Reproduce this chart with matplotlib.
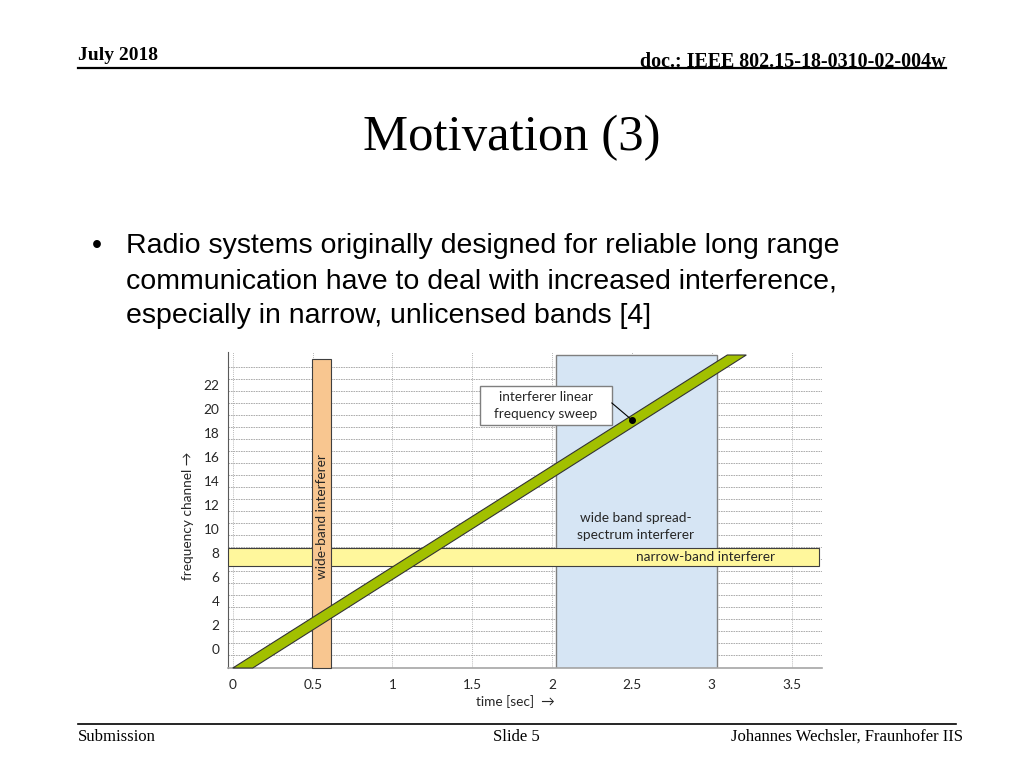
import matplotlib
matplotlib.use("Agg")
import matplotlib.pyplot as plt
from matplotlib.patches import Rectangle, Polygon

# chart data (time in sec, frequency in channels)
time_ticks = [0, 0.5, 1, 1.5, 2, 2.5, 3, 3.5]
time_labels = ['0', '0.5', '1', '1.5', '2', '2.5', '3', '3.5']
freq_ticks = [0, 2, 4, 6, 8, 10, 12, 14, 16, 18, 20, 22]

wideband_t = [0.495, 0.614]        # wide-band interferer (vertical bar)
wideband_f = [-1.58, 24.17]
spread_t = [2.025, 3.035]          # spread-spectrum interferer (block)
spread_f = [-1.58, 24.5]
narrow_t = [-0.03, 3.67]           # narrow-band interferer (horizontal bar)
narrow_f = [6.92, 8.42]
sweep_t = [0.0, 0.125, 3.216, 3.097]   # linear sweep band corners
sweep_f = [-1.58, -1.58, 24.5, 24.5]
sweep_dot = (2.5, 19.08)
callout_t = [1.548, 2.374]
callout_f = [18.67, 21.9]

serif = 'Liberation Serif'
sans = 'Liberation Sans'
chart_font = 'Lato'
fs = 9.8
txt_col = '#262626'
edge = '#3f3f3f'

fig = plt.figure(figsize=(10.24, 7.68), dpi=100)
W, H = 1024, 768

def px(x, y):
    return x / W, 1 - y / H

# slide header / footer
fig.text(*px(78, 55), 'July 2018', fontfamily=serif, fontweight='bold', fontsize=14, va='center', ha='left')
fig.text(*px(946, 62), 'doc.: IEEE 802.15-18-0310-02-004w', fontfamily=serif, fontweight='bold',
         fontsize=14.4, va='center', ha='right')
fig.add_artist(plt.Line2D([78 / W, 946 / W], [1 - 68 / H, 1 - 68 / H], color='black', lw=1.6))
fig.add_artist(plt.Line2D([78 / W, 956 / W], [1 - 724 / H, 1 - 724 / H], color='black', lw=1.2))
fig.text(*px(78, 737), 'Submission', fontfamily=serif, fontsize=12, va='center', ha='left')
fig.text(*px(516, 737), 'Slide 5', fontfamily=serif, fontsize=12, va='center', ha='center')
fig.text(*px(963, 737), 'Johannes Wechsler, Fraunhofer IIS', fontfamily=serif, fontsize=12,
         va='center', ha='right')

fig.text(*px(512, 138), 'Motivation (3)', fontfamily=serif, fontsize=36.5, va='center', ha='center')

bullet_lines = ['Radio systems originally designed for reliable long range',
                'communication have to deal with increased interference,',
                'especially in narrow, unlicensed bands [4]']
fig.text(*px(92, 246), '\u2022', fontfamily=sans, fontsize=20.5, va='center', ha='left')
for i, line in enumerate(bullet_lines):
    fig.text(*px(126, 246 + 35 * i), line, fontfamily=sans, fontsize=20.5, va='center', ha='left')

# chart axes
ax = fig.add_axes([228 / W, 1 - 668 / H, (822 - 228) / W, (668 - 352) / H])
ax.set_xlim(-0.03, 3.69)
ax.set_ylim(-1.58, 24.75)
for s in ['top', 'right']:
    ax.spines[s].set_visible(False)
ax.spines['left'].set_color('#595959')
ax.spines['bottom'].set_color('#a6a6a6')
ax.spines['bottom'].set_linewidth(1.2)

ax.set_xticks(time_ticks)
ax.set_xticklabels(time_labels)
ax.set_yticks(freq_ticks)
ax.set_yticks([f + 0.5 for f in range(-1, 24)], minor=True)
ax.tick_params(axis='both', which='both', length=0, labelsize=fs, colors=txt_col)
ax.tick_params(axis='x', pad=8)
ax.tick_params(axis='y', pad=6)
for lab in ax.get_xticklabels() + ax.get_yticklabels():
    lab.set_fontfamily(chart_font)
ax.grid(True, which='minor', axis='y', color='#a0a0a0', linestyle=(0, (2, 1)), lw=0.6)
ax.grid(True, which='major', axis='x', color='#a0a0a0', linestyle=(0, (1, 1.5)), lw=0.6)
ax.set_axisbelow(True)

ax.add_patch(Rectangle((spread_t[0], spread_f[0]), spread_t[1] - spread_t[0], spread_f[1] - spread_f[0],
                       facecolor='#d6e5f4', edgecolor='#7f7f7f', lw=1.0, zorder=2))
ax.add_patch(Rectangle((narrow_t[0], narrow_f[0]), narrow_t[1] - narrow_t[0], narrow_f[1] - narrow_f[0],
                       facecolor='#fff79c', edgecolor=edge, lw=0.8, zorder=3))
ax.add_patch(Rectangle((wideband_t[0], wideband_f[0]), wideband_t[1] - wideband_t[0],
                       wideband_f[1] - wideband_f[0], facecolor='#f8c690', edgecolor=edge, lw=0.8,
                       zorder=4, clip_on=False))
ax.add_patch(Polygon(list(zip(sweep_t, sweep_f)), closed=True, facecolor='#a2c000', edgecolor='#333333',
                     lw=0.8, zorder=5, clip_on=False))

ax.text(0.557, 11.0, 'wide-band interferer', rotation=90, ha='center', va='center',
        fontfamily=chart_font, fontsize=fs, color=txt_col, zorder=6)
ax.text(2.525, 10.25, 'wide band spread-\nspectrum interferer', ha='center', va='center',
        fontfamily=chart_font, fontsize=fs, color=txt_col, linespacing=1.5, zorder=6)
ax.text(2.963, 7.67, 'narrow-band interferer', ha='center', va='center',
        fontfamily=chart_font, fontsize=fs, color=txt_col, zorder=6)

ax.add_patch(Rectangle((callout_t[0], callout_f[0]), callout_t[1] - callout_t[0], callout_f[1] - callout_f[0],
                       facecolor='white', edgecolor='#7f7f7f', lw=1.0, zorder=7))
ax.text((callout_t[0] + callout_t[1]) / 2, (callout_f[0] + callout_f[1]) / 2,
        'interferer linear\nfrequency sweep', ha='center', va='center',
        fontfamily=chart_font, fontsize=fs, color=txt_col, linespacing=1.45, zorder=8)
ax.plot([callout_t[1], sweep_dot[0]], [20.5, sweep_dot[1]], color='black', lw=0.8, zorder=8)
ax.plot([sweep_dot[0]], [sweep_dot[1]], 'o', color='black', ms=4, zorder=9)

fig.text(*px(188, 516), 'frequency channel \u2192', rotation=90, ha='center', va='center',
         fontfamily=[chart_font, 'DejaVu Sans'], fontsize=fs, color=txt_col)
fig.text(*px(515, 702), 'time [sec]  \u2192', ha='center', va='center',
         fontfamily=[chart_font, 'DejaVu Sans'], fontsize=fs, color=txt_col)

fig.savefig('out.png', dpi=100, facecolor='white')
